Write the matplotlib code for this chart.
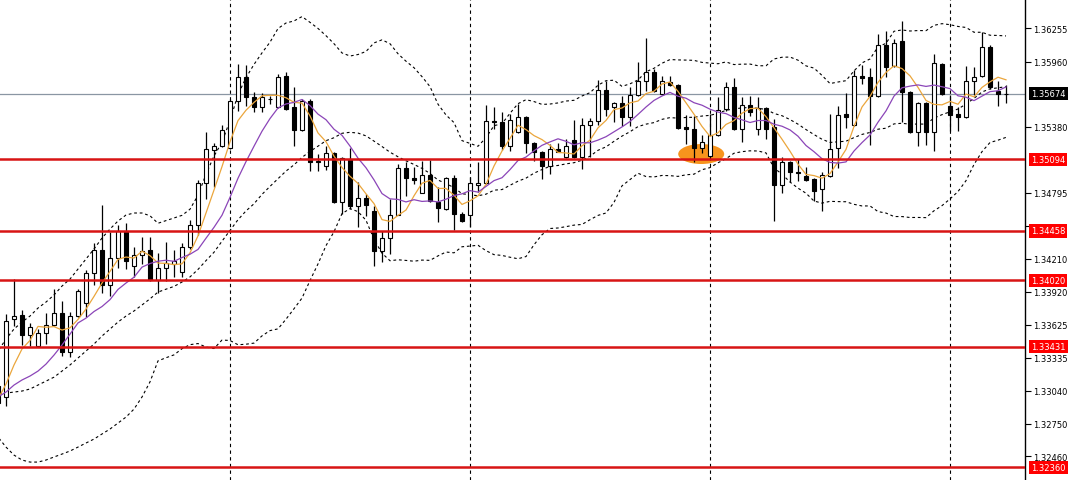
import numpy as np
import pandas as pd
import matplotlib
matplotlib.use("Agg")
import matplotlib.pyplot as plt
from matplotlib.patches import Ellipse
from matplotlib import transforms

# OHLC, one bar per candle (first bar is cut by the left edge)
opens = [
    1.33082, 1.32985, 1.33677, 1.33712, 1.33535, 1.33437, 1.33552, 1.33623, 1.33730, 1.33384,
    1.33703, 1.33819, 1.34085, 1.34289, 1.33978, 1.34218, 1.34457, 1.34147, 1.34244, 1.34289,
    1.34023, 1.34129, 1.34164, 1.34094, 1.34315, 1.34510, 1.34883, 1.35176, 1.35211, 1.35193,
    1.35610, 1.35823, 1.35646, 1.35557, 1.35624, 1.35557, 1.35832, 1.35557, 1.35353, 1.35610,
    1.35078, 1.35034, 1.35149, 1.34714, 1.35096, 1.34679, 1.34750, 1.34635, 1.34280, 1.34395,
    1.34599, 1.35016, 1.34927, 1.34794, 1.34954, 1.34714, 1.34652, 1.34927, 1.34608, 1.34599,
    1.34865, 1.34883, 1.35433, 1.35424, 1.35211, 1.35335, 1.35468, 1.35238, 1.35158, 1.35034,
    1.35185, 1.35114, 1.35264, 1.35114, 1.35397, 1.35433, 1.35708, 1.35557, 1.35593, 1.35468,
    1.35663, 1.35788, 1.35868, 1.35672, 1.35779, 1.35752, 1.35380, 1.35362, 1.35193, 1.35122,
    1.35309, 1.35539, 1.35734, 1.35362, 1.35575, 1.35362, 1.35548, 1.35380, 1.34865, 1.35069,
    1.34981, 1.34945, 1.34918, 1.34830, 1.34945, 1.35193, 1.35495, 1.35397, 1.35832, 1.35823,
    1.35655, 1.36107, 1.35921, 1.36143, 1.35690, 1.35335, 1.35593, 1.35335, 1.35938, 1.35566,
    1.35495, 1.35468, 1.35788, 1.35832, 1.36089, 1.35699, 1.35670,
]
highs = [
    1.33118, 1.33721, 1.34031, 1.33756, 1.33641, 1.33588, 1.33730, 1.33943, 1.33836, 1.33739,
    1.33943, 1.34111, 1.34351, 1.34688, 1.34448, 1.34510, 1.34528, 1.34315, 1.34404, 1.34404,
    1.34262, 1.34360, 1.34289, 1.34351, 1.34555, 1.34910, 1.35335, 1.35238, 1.35397, 1.35628,
    1.35938, 1.35930, 1.35690, 1.35681, 1.35655, 1.35850, 1.35868, 1.35734, 1.35628, 1.35628,
    1.35140, 1.35211, 1.35158, 1.35114, 1.35193, 1.34892, 1.34786, 1.34679, 1.34457, 1.34741,
    1.35051, 1.35069, 1.35025, 1.35078, 1.35087, 1.34847, 1.34936, 1.34954, 1.34626, 1.34936,
    1.35069, 1.35575, 1.35557, 1.35513, 1.35495, 1.35584, 1.35477, 1.35247, 1.35167, 1.35229,
    1.35238, 1.35273, 1.35442, 1.35459, 1.35459, 1.35797, 1.35788, 1.35600, 1.35655, 1.35734,
    1.35956, 1.36169, 1.35894, 1.35832, 1.35832, 1.35761, 1.35486, 1.35477, 1.35309, 1.35495,
    1.35646, 1.35779, 1.35814, 1.35646, 1.35655, 1.35646, 1.35557, 1.35451, 1.35114, 1.35075,
    1.35096, 1.35025, 1.34927, 1.34981, 1.35495, 1.35566, 1.35681, 1.35885, 1.35930, 1.35903,
    1.36205, 1.36231, 1.36160, 1.36320, 1.35699, 1.35602, 1.35602, 1.36027, 1.35947, 1.35663,
    1.35557, 1.35921, 1.35912, 1.36222, 1.36107, 1.35788, 1.35752,
]
lows = [
    1.32905, 1.32905, 1.33615, 1.33446, 1.33437, 1.33428, 1.33455, 1.33615, 1.33348, 1.33340,
    1.33694, 1.33694, 1.33978, 1.33907, 1.33881, 1.34129, 1.34120, 1.34049, 1.34164, 1.34015,
    1.33907, 1.34015, 1.34049, 1.34049, 1.34298, 1.34422, 1.34741, 1.34847, 1.35202, 1.35185,
    1.35522, 1.35566, 1.35513, 1.35513, 1.35584, 1.35548, 1.35530, 1.35211, 1.35344, 1.34989,
    1.34989, 1.34998, 1.34706, 1.34608, 1.34652, 1.34493, 1.34590, 1.34147, 1.34182, 1.34253,
    1.34595, 1.34768, 1.34874, 1.34790, 1.34714, 1.34537, 1.34644, 1.34466, 1.34537, 1.34493,
    1.34803, 1.34874, 1.35362, 1.35176, 1.35167, 1.35330, 1.35149, 1.35078, 1.34918, 1.34963,
    1.35154, 1.35109, 1.35109, 1.35007, 1.35114, 1.35397, 1.35477, 1.35424, 1.35389, 1.35389,
    1.35655, 1.35699, 1.35690, 1.35663, 1.35743, 1.35362, 1.35229, 1.35069, 1.35149, 1.35118,
    1.35300, 1.35522, 1.35353, 1.35247, 1.35477, 1.35309, 1.35273, 1.34546, 1.34794, 1.34892,
    1.34901, 1.34901, 1.34723, 1.34635, 1.34936, 1.35016, 1.35371, 1.35389, 1.35761, 1.35220,
    1.35646, 1.35823, 1.35912, 1.35424, 1.35330, 1.35211, 1.35220, 1.35167, 1.35663, 1.35344,
    1.35344, 1.35464, 1.35663, 1.35823, 1.35717, 1.35566, 1.35593,
]
closes = [
    1.32932, 1.33659, 1.33703, 1.33535, 1.33606, 1.33552, 1.33623, 1.33730, 1.33384, 1.33703,
    1.33925, 1.34085, 1.34289, 1.33978, 1.34218, 1.34457, 1.34191, 1.34244, 1.34280, 1.34023,
    1.34129, 1.34173, 1.34191, 1.34315, 1.34510, 1.34883, 1.35185, 1.35211, 1.35353, 1.35610,
    1.35823, 1.35646, 1.35557, 1.35646, 1.35632, 1.35823, 1.35539, 1.35353, 1.35610, 1.35069,
    1.35065, 1.35149, 1.34714, 1.35105, 1.34679, 1.34750, 1.34688, 1.34280, 1.34395, 1.34599,
    1.35016, 1.34927, 1.34910, 1.34954, 1.34723, 1.34661, 1.34927, 1.34608, 1.34546, 1.34883,
    1.34883, 1.35433, 1.35424, 1.35211, 1.35442, 1.35468, 1.35238, 1.35158, 1.35034, 1.35185,
    1.35158, 1.35211, 1.35114, 1.35397, 1.35433, 1.35708, 1.35539, 1.35593, 1.35468, 1.35663,
    1.35788, 1.35868, 1.35699, 1.35788, 1.35752, 1.35371, 1.35362, 1.35193, 1.35247, 1.35309,
    1.35530, 1.35734, 1.35362, 1.35575, 1.35513, 1.35548, 1.35362, 1.34865, 1.35069, 1.34981,
    1.34972, 1.34910, 1.34812, 1.34954, 1.35185, 1.35486, 1.35468, 1.35832, 1.35814, 1.35655,
    1.36107, 1.35912, 1.36125, 1.35690, 1.35335, 1.35593, 1.35335, 1.35947, 1.35672, 1.35486,
    1.35468, 1.35788, 1.35823, 1.36089, 1.35734, 1.35672, 1.35674,
]

# indicator values for the first bars (history before the window)
ma5_start = [1.32967, 1.33100, 1.33269, 1.33411]
ma10_start = [1.32985, 1.33029, 1.33091, 1.33136, 1.33171, 1.33215, 1.33277, 1.33357, 1.33446]
bb_mid_start = [1.33011, 1.33020, 1.33029, 1.33038, 1.33056, 1.33091, 1.33126, 1.33161, 1.33215, 1.33269,
                1.33331, 1.33393, 1.33455, 1.33526, 1.33588, 1.33650, 1.33703, 1.33748, 1.33801]
bb_up_start = [1.33393, 1.33499, 1.33588, 1.33650, 1.33703, 1.33774, 1.33827, 1.33890, 1.33969, 1.34031,
               1.34120, 1.34209, 1.34298, 1.34395, 1.34475, 1.34546, 1.34599, 1.34617, 1.34617]
bb_low_start = [1.32630, 1.32541, 1.32470, 1.32426, 1.32408, 1.32408, 1.32426, 1.32453, 1.32479, 1.32506,
                1.32541, 1.32577, 1.32612, 1.32657, 1.32701, 1.32754, 1.32807, 1.32878, 1.32985]

levels = [1.35094, 1.34458, 1.34020, 1.33431, 1.32360]
last_price = 1.35674
tick_values = [1.36255, 1.35960, 1.35380, 1.34795, 1.34500, 1.34210, 1.33920,
               1.33625, 1.33335, 1.33040, 1.32750, 1.32460]
separators = [28, 58, 88, 118]

bars = np.arange(-1, len(closes) - 1)
s = pd.Series(closes)

ma5 = s.rolling(5).mean().to_numpy()
ma5[:len(ma5_start)] = ma5_start
ma10 = s.rolling(10).mean().to_numpy()
ma10[:len(ma10_start)] = ma10_start
mid = s.rolling(20).mean()
sd = s.rolling(20).std(ddof=0)
bb_mid = mid.to_numpy()
bb_up = (mid + 2 * sd).to_numpy()
bb_low = (mid - 2 * sd).to_numpy()
bb_mid[:len(bb_mid_start)] = bb_mid_start
bb_up[:len(bb_up_start)] = bb_up_start
bb_low[:len(bb_low_start)] = bb_low_start

fig = plt.figure(figsize=(10.72, 4.81), dpi=100)
ax = fig.add_axes([0, 0, 1025 / 1072, 1])
ax.set_xlim(-0.75, 127.375)
ax.set_ylim(1.32249, 1.36515)

# highlighted area
ax.add_patch(Ellipse((86.9, 1.35140), 5.75, 0.00177, facecolor="#f7941d",
                     edgecolor="none", zorder=1))

ax.axhline(last_price, color="#8a96a3", lw=0.9, zorder=1)
for sx in separators:
    ax.axvline(sx, color="black", lw=0.8, ls=(0, (3, 3)), zorder=1)

dash = (0, (2.5, 2.5))
ax.plot(bars, bb_up, color="black", lw=0.8, ls=dash, zorder=2)
ax.plot(bars, bb_mid, color="black", lw=0.8, ls=dash, zorder=2)
ax.plot(bars, bb_low, color="black", lw=0.8, ls=dash, zorder=2)

# candles
for x, o, h, l, c in zip(bars, opens, highs, lows, closes):
    ax.vlines(x, l, h, color="black", lw=0.9, zorder=3)
    face = "white" if c >= o else "black"
    ax.bar(x, abs(c - o), width=0.6, bottom=min(o, c), color=face,
           edgecolor="black", linewidth=0.8, zorder=3.5)

ax.plot(bars, ma5, color="#eba63c", lw=0.9, zorder=4)
ax.plot(bars, ma10, color="#8b45b8", lw=0.9, zorder=4)

for lv in levels:
    ax.axhline(lv, color="#d81414", lw=1.8, zorder=5)

# right price scale
ax.yaxis.tick_right()
ax.set_yticks(tick_values)
ax.set_yticklabels([f"{v:.5f}" for v in tick_values])
ax.tick_params(axis="y", length=4, width=0.8, pad=2, labelsize=6, colors="black")
ax.set_xticks([])
for side in ["top", "left", "bottom"]:
    ax.spines[side].set_visible(False)
ax.spines["right"].set_color("black")
ax.spines["right"].set_linewidth(1)

trans = transforms.blended_transform_factory(fig.transFigure, ax.transData)
for lv in levels:
    ax.text(1031 / 1072, lv, f"{lv:.5f}", transform=trans, ha="left", va="center",
            fontsize=6, color="white", clip_on=False, zorder=10,
            bbox=dict(facecolor="#ff0000", edgecolor="none", boxstyle="square,pad=0.25"))
ax.text(1031 / 1072, last_price, f"{last_price:.5f}", transform=trans, ha="left",
        va="center", fontsize=6, color="white", clip_on=False, zorder=10,
        bbox=dict(facecolor="black", edgecolor="none", boxstyle="square,pad=0.25"))

fig.savefig("out.png", dpi=100)
